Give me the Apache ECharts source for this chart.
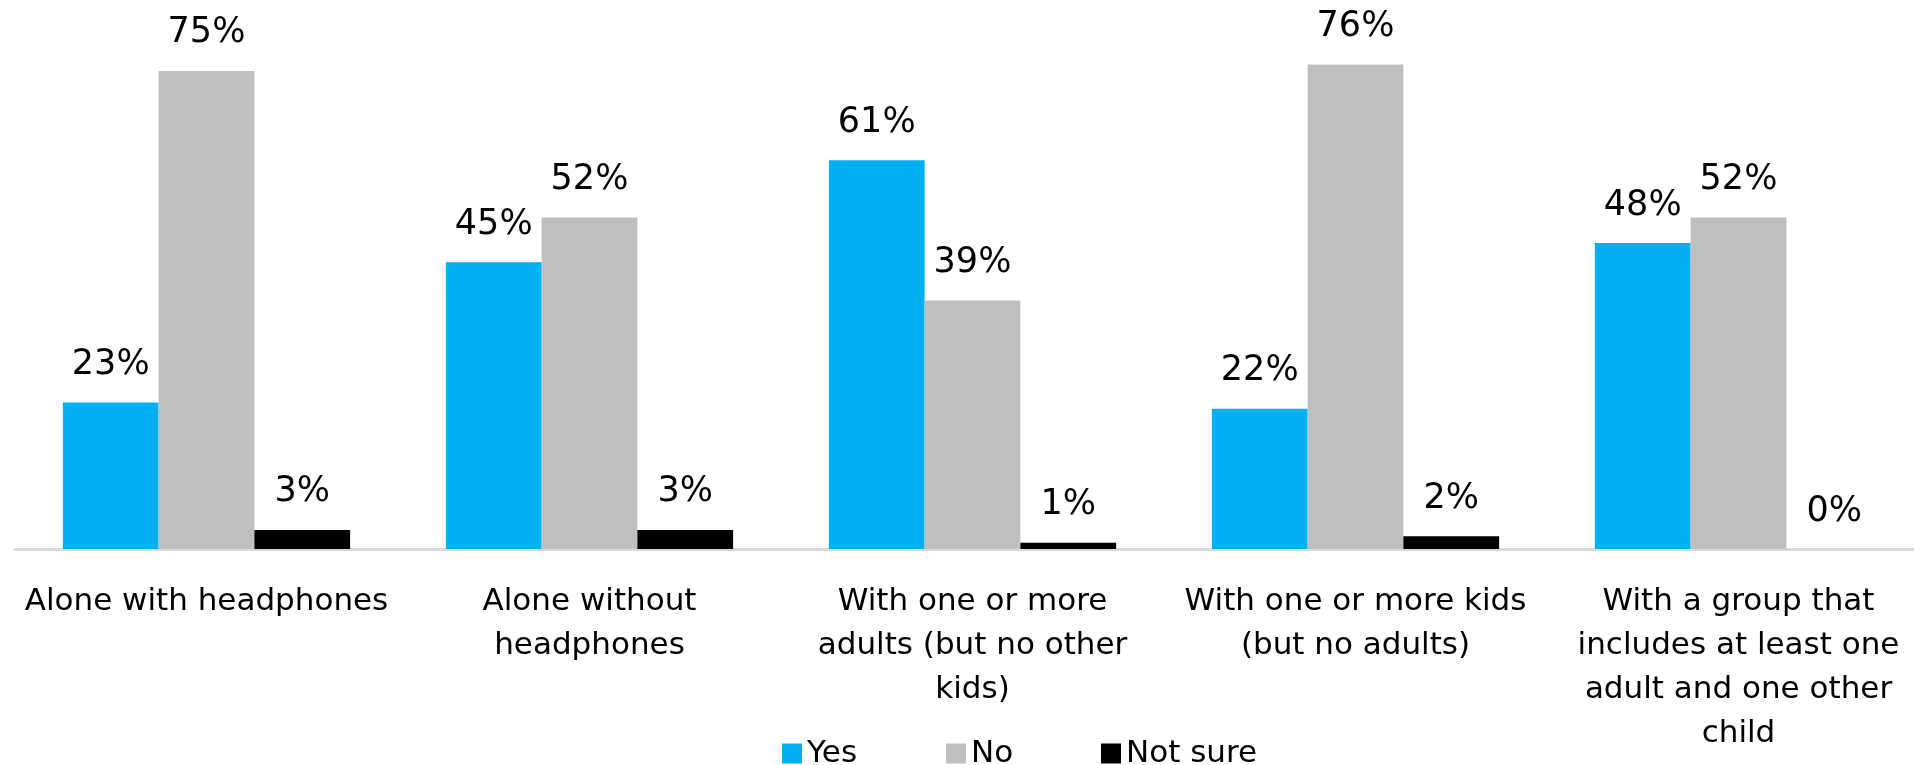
<!DOCTYPE html>
<html>
<head>
<meta charset="utf-8">
<script src="https://cdn.jsdelivr.net/npm/echarts@6/dist/echarts.min.js"></script>
<style>
  html, body { margin: 0; padding: 0; background: #fff; }
  #chart { width: 1914px; height: 765px; }
</style>
</head>
<body>
<div id="chart"></div>
<script>
var categories = [
    'Alone with headphones',
    'Alone without\nheadphones',
    'With one or more\nadults (but no other\nkids)',
    'With one or more kids\n(but no adults)',
    'With a group that\nincludes at least one\nadult and one other\nchild'
];
var seriesNames = ['Yes', 'No', 'Not sure'];
var yesData = [23, 45, 61, 22, 48];
var noData = [75, 52, 39, 76, 52];
var notSureData = [3, 3, 1, 2, 0];

var colors = ['#00b0f0', '#bfbfbf', '#000000'];
var fontName = 'DejaVu Sans';

var makeSeries = function (name, data, color) {
    return {
        name: name,
        type: 'bar',
        data: data,
        barGap: 0,
        barCategoryGap: '25%',
        itemStyle: { color: color },
        label: {
            show: true,
            position: 'top',
            distance: 20,
            formatter: '{c}%',
            color: '#000',
            fontFamily: fontName,
            fontSize: 35
        }
    };
};

var makeLegend = function (name, left) {
    return {
        data: [name],
        left: left,
        top: 733,
        icon: 'rect',
        itemWidth: 20,
        itemHeight: 20,
        itemGap: 10,
        textStyle: { fontFamily: fontName, fontSize: 31, color: '#000', padding: [0, 0, 0, 0] }
    };
};

var myChart = echarts.init(document.getElementById('chart'));
var option = {
    animation: false,
    color: colors,
    legend: [
        makeLegend(seriesNames[0], 777),
        makeLegend(seriesNames[1], 941),
        makeLegend(seriesNames[2], 1096)
    ],
    grid: {
        left: 15,
        top: 39,
        width: 1915,
        bottom: 216,
        containLabel: false,
        outerBoundsMode: 'none'
    },
    xAxis: {
        type: 'category',
        data: categories,
        axisLine: { lineStyle: { color: '#d9d9d9', width: 3 } },
        axisTick: { show: false },
        axisLabel: {
            interval: 0,
            margin: 31,
            color: '#000',
            fontFamily: fontName,
            fontSize: 31,
            lineHeight: 44
        }
    },
    yAxis: {
        type: 'value',
        min: 0,
        max: 80,
        show: false,
        splitLine: { show: false }
    },
    series: [
        makeSeries(seriesNames[0], yesData, colors[0]),
        makeSeries(seriesNames[1], noData, colors[1]),
        makeSeries(seriesNames[2], notSureData, colors[2])
    ]
};
option && myChart.setOption(option);
</script>
</body>
</html>
